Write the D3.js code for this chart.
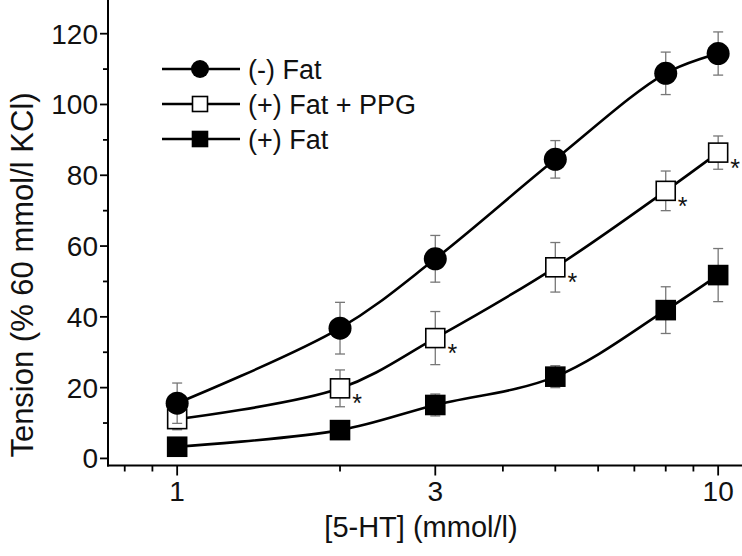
<!DOCTYPE html>
<html>
<head>
<meta charset="utf-8">
<script src="https://cdn.jsdelivr.net/npm/d3@7"></script>
<style>
  body { margin: 0; background: #fff; }
  text { font-family: "Liberation Sans", Arial, sans-serif; fill: #111; }
</style>
</head>
<body>
<script>
// concentrations of 5-HT (x), log axis
const conc = [1, 2, 3, 5, 8, 10];

// tension values, mean and error
const noFat = [15.6, 36.8, 56.4, 84.5, 108.8, 114.4];
const noFatErr = [5.7, 7.3, 6.6, 5.3, 6.0, 6.1];
const fatPPG = [11.1, 19.8, 34.0, 54.0, 75.6, 86.4];
const fatPPGErr = [3.0, 5.2, 7.5, 7.0, 5.6, 4.7];
const fat = [3.3, 8.0, 15.1, 23.1, 41.9, 51.8];
const fatErr = [1.5, 1.5, 3.1, 3.1, 6.6, 7.5];
// which points of (+) Fat + PPG carry an asterisk
const ppgStar = [false, true, true, true, true, true];

const yMajor = [0, 20, 40, 60, 80, 100, 120];
const yMinor = [10, 30, 50, 70, 90, 110];
const xMajor = [1, 3, 10];
const xMinor = [0.8, 0.9, 2, 4, 5, 6, 7, 8, 9];

const width = 742, height = 556;

const svg = d3.select('body').append('svg')
    .attr('width', width)
    .attr('height', height);

const x = d3.scaleLog().domain([0.745, 11.5]).range([108, 751]);
const y = d3.scaleLinear().domain([-2, 130]).range([465.5, -1.7]);

// axes
const xAxis = svg.append('g').attr('transform', 'translate(0,465.5)');
xAxis.append('line')
    .attr('x1', 107).attr('x2', width)
    .attr('stroke', '#000').attr('stroke-width', 2);
xAxis.selectAll('.minor').data(xMinor).enter().append('line')
    .attr('x1', d => x(d)).attr('x2', d => x(d))
    .attr('y1', 0).attr('y2', 6)
    .attr('stroke', '#000').attr('stroke-width', 1.8);
xAxis.selectAll('.major').data(xMajor).enter().append('line')
    .attr('x1', d => x(d)).attr('x2', d => x(d))
    .attr('y1', 0).attr('y2', 10)
    .attr('stroke', '#000').attr('stroke-width', 1.8);
xAxis.selectAll('.lab').data(xMajor).enter().append('text')
    .attr('x', d => x(d)).attr('y', 35)
    .attr('text-anchor', 'middle')
    .style('font-size', '28px')
    .text(d => d);

const yAxis = svg.append('g').attr('transform', 'translate(108,0)');
yAxis.append('line')
    .attr('y1', 0).attr('y2', 466.5)
    .attr('stroke', '#000').attr('stroke-width', 2);
yAxis.selectAll('.minor').data(yMinor).enter().append('line')
    .attr('y1', d => y(d)).attr('y2', d => y(d))
    .attr('x1', 0).attr('x2', -5)
    .attr('stroke', '#000').attr('stroke-width', 1.8);
yAxis.selectAll('.major').data(yMajor).enter().append('line')
    .attr('y1', d => y(d)).attr('y2', d => y(d))
    .attr('x1', 0).attr('x2', -8)
    .attr('stroke', '#000').attr('stroke-width', 1.8);
yAxis.selectAll('.lab').data(yMajor).enter().append('text')
    .attr('x', -10).attr('y', d => y(d) + 10)
    .attr('text-anchor', 'end')
    .style('font-size', '28px')
    .text(d => d);

svg.append('text')
    .attr('x', 421).attr('y', 537)
    .attr('text-anchor', 'middle')
    .style('font-size', '29px')
    .text('[5-HT] (mmol/l)');

svg.append('text')
    .attr('transform', 'translate(33,275) rotate(-90)')
    .attr('text-anchor', 'middle')
    .style('font-size', '31px')
    .text('Tension (% 60 mmol/l KCl)');

// series
const series = [
  {vals: fat, err: fatErr, shape: 'square', fill: '#000'},
  {vals: fatPPG, err: fatPPGErr, shape: 'square', fill: '#fff'},
  {vals: noFat, err: noFatErr, shape: 'circle', fill: '#000'}
];

const line = d3.line()
    .x(d => x(d[0]))
    .y(d => y(d[1]))
    .curve(d3.curveCatmullRom.alpha(0.5));

series.forEach(s => {
  const pts = conc.map((c, i) => [c, s.vals[i], s.err[i]]);
  const g = svg.append('g');

  const eb = g.selectAll('.eb').data(pts).enter().append('g')
      .attr('stroke', '#777').attr('stroke-width', 1.3);
  eb.append('line')
      .attr('x1', d => x(d[0])).attr('x2', d => x(d[0]))
      .attr('y1', d => y(d[1] - d[2])).attr('y2', d => y(d[1] + d[2]));
  eb.append('line')
      .attr('x1', d => x(d[0]) - 5).attr('x2', d => x(d[0]) + 5)
      .attr('y1', d => y(d[1] + d[2])).attr('y2', d => y(d[1] + d[2]));
  eb.append('line')
      .attr('x1', d => x(d[0]) - 5).attr('x2', d => x(d[0]) + 5)
      .attr('y1', d => y(d[1] - d[2])).attr('y2', d => y(d[1] - d[2]));

  g.append('path')
      .datum(pts)
      .attr('d', line)
      .attr('fill', 'none')
      .attr('stroke', '#000')
      .attr('stroke-width', 2.6);

  if (s.shape === 'circle') {
    g.selectAll('.m').data(pts).enter().append('circle')
        .attr('cx', d => x(d[0])).attr('cy', d => y(d[1]))
        .attr('r', 11.5)
        .attr('fill', s.fill);
  } else {
    g.selectAll('.m').data(pts).enter().append('rect')
        .attr('x', d => x(d[0]) - 9.5).attr('y', d => y(d[1]) - 9.5)
        .attr('width', 19).attr('height', 19)
        .attr('fill', s.fill)
        .attr('stroke', '#000').attr('stroke-width', 1.6);
  }
});

// asterisks next to (+) Fat + PPG
svg.selectAll('.star')
    .data(conc.map((c, i) => [c, fatPPG[i], ppgStar[i]]).filter(d => d[2]))
    .enter().append('text')
    .attr('x', d => x(d[0]) + 17)
    .attr('y', d => y(d[1]) + 24)
    .attr('text-anchor', 'middle')
    .style('font-size', '25px')
    .text('*');

// legend
const legendItems = [
  {label: '(-) Fat', shape: 'circle', fill: '#000'},
  {label: '(+) Fat + PPG', shape: 'square', fill: '#fff'},
  {label: '(+) Fat', shape: 'square', fill: '#000'}
];
const legend = svg.append('g');
const lg = legend.selectAll('g').data(legendItems).enter().append('g')
    .attr('transform', (d, i) => `translate(0,${69 + i * 35})`);
lg.append('line')
    .attr('x1', 162).attr('x2', 240)
    .attr('stroke', '#000').attr('stroke-width', 2.6);
lg.filter(d => d.shape === 'circle').append('circle')
    .attr('cx', 200).attr('r', 9)
    .attr('fill', d => d.fill);
lg.filter(d => d.shape === 'square').append('rect')
    .attr('x', 192.5).attr('y', -7.5)
    .attr('width', 15).attr('height', 15)
    .attr('fill', d => d.fill)
    .attr('stroke', '#000').attr('stroke-width', 1.6);
lg.append('text')
    .attr('x', 248).attr('y', 10)
    .style('font-size', '27px')
    .text(d => d.label);
</script>
</body>
</html>
